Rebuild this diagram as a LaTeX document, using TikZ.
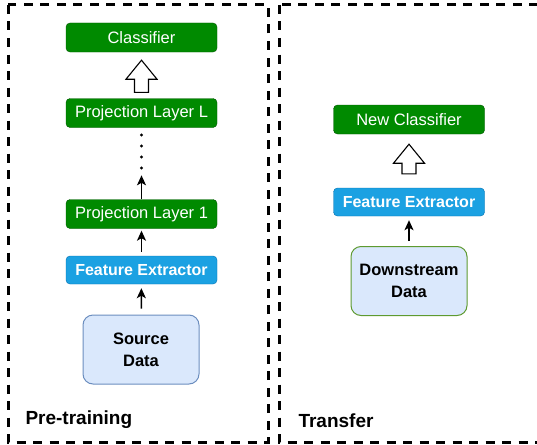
\documentclass[tikz,border=0pt]{standalone}
\usepackage{fontspec}
\setmainfont{Liberation Sans}
\usetikzlibrary{arrows.meta,calc}
\definecolor{dgreen}{HTML}{008A00}
\definecolor{dgreenline}{HTML}{005700}
\definecolor{fblue}{HTML}{1BA1E2}
\definecolor{fblueline}{HTML}{006EAF}
\definecolor{lblue}{HTML}{DAE8FC}
\definecolor{lblueline}{HTML}{6C8EBF}
\definecolor{dataline}{HTML}{5E9A30}
\tikzset{
  greenbox/.style={draw=dgreenline,fill=dgreen,text=white,rounded corners=4pt,
    minimum width=151,minimum height=29,font=\fontsize{16.5}{18}\selectfont},
  bluebox/.style={draw=fblueline,fill=fblue,text=white,rounded corners=4pt,
    minimum width=151,minimum height=28,font=\fontsize{16}{18}\selectfont\bfseries},
  databox/.style={draw=lblueline,fill=lblue,rounded corners=10pt,line width=1pt,
    minimum width=116,minimum height=69,align=center,
    font=\fontsize{16.5}{22}\selectfont\bfseries},
  arr/.style={line width=1.5pt,-{Stealth[length=10pt,width=9pt,inset=2.5pt]}},
  hollow/.style={draw=black,fill=white,line width=1.1pt,line join=miter},
  frame/.style={line width=3pt,dash pattern=on 9pt off 7.5pt},
  phase/.style={font=\fontsize{19}{20}\selectfont\bfseries,anchor=west}
}
\newcommand{\fatarrow}[2]{% #1 base, #2 tip
  \draw[hollow] ($(#1)+(-7,0)$) -- ($(#2)+(-7,19)$) -- ($(#2)+(-15.5,19)$)
    -- (#2) -- ($(#2)+(15.5,19)$) -- ($(#2)+(7,19)$) -- ($(#1)+(7,0)$) -- cycle;
}
\begin{document}
\begin{tikzpicture}[x=1pt,y=-1pt]
  \useasboundingbox (0,0) rectangle (537,444);
  \begin{scope}
    \clip (0,0) rectangle (537,444);
    \draw[frame] (8,5) rectangle (268,442);
    \draw[frame] (279,5) rectangle (549,442);
  \end{scope}

  % pre-training
  \node[greenbox] (cls) at (141.5,37.5) {Classifier};
  \node[greenbox] (projL) at (141.5,113) {Projection Layer L};
  \node[greenbox] (proj1) at (141.5,214) {Projection Layer 1};
  \node[bluebox] (featL) at (141.5,270) {Feature Extractor};
  \node[databox] (src) at (141,349.5) {Source\\Data};
  \node[phase] (pre) at (22,420) {Pre-training};

  \coordinate (up1b) at ($(projL.north)+(0,-6)$);
  \coordinate (up1t) at ($(cls.south)+(0,8)$);
  \fatarrow{up1b}{up1t}
  \coordinate (gap) at ($(proj1.north)+(0,-24)$);
  \draw[arr] (proj1.north) -- (gap);
  \foreach \y in {135,146,157,168}
    \fill (141.5,\y) circle (1.7pt);
  \draw[arr,shorten <=4pt,shorten >=2pt] (featL) -- (proj1);
  \draw[arr,shorten <=6pt,shorten >=4pt] (src) -- (featL);

  % transfer
  \node[greenbox] (newcls) at (409,119.5) {New Classifier};
  \node[bluebox] (featR) at (409,202) {Feature Extractor};
  \node[databox,draw=dataline] (down) at (409,281) {Downstream\\Data};
  \node[phase] (trans) at (295,421) {Transfer};

  \coordinate (up2b) at ($(featR.north)+(0,-14)$);
  \coordinate (up2t) at ($(newcls.south)+(0,10)$);
  \fatarrow{up2b}{up2t}
  \draw[arr,shorten <=5pt,shorten >=4pt] (down) -- (featR);
\end{tikzpicture}
\end{document}
